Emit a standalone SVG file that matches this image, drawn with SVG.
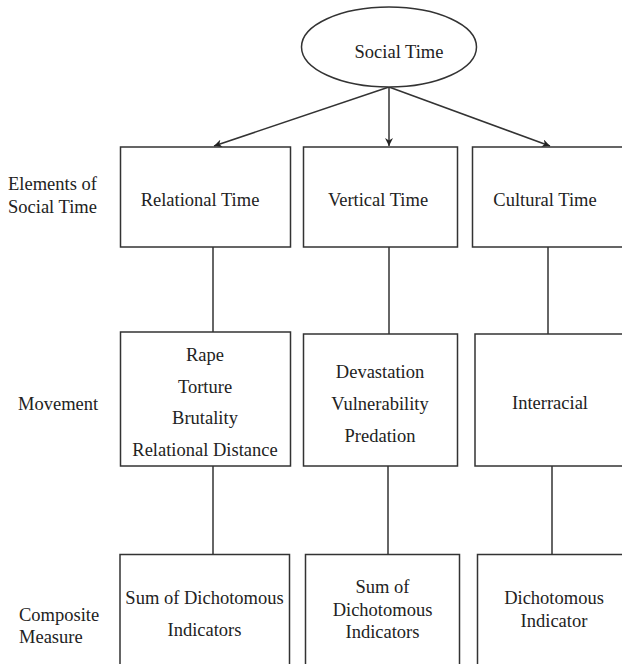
<svg xmlns="http://www.w3.org/2000/svg" width="622" height="664" viewBox="0 0 622 664">
<style>
.bx{fill:#fff;stroke:#333;stroke-width:1.5}
.ln{stroke:#333;stroke-width:1.5;fill:none}
.t{font-family:'Liberation Serif','DejaVu Serif',serif;font-size:18.5px;fill:#222}
.c{text-anchor:middle}
</style>
<defs>
<marker id="ah" viewBox="0 0 10 10" refX="10" refY="5" markerWidth="8" markerHeight="8" markerUnits="userSpaceOnUse" orient="auto">
<path d="M0,0 L10,5 L0,10 L3,5 z" fill="#222"/>
</marker>
</defs>
<rect width="622" height="664" fill="#fff"/>
<g id="labels" font-family="Liberation Serif, DejaVu Serif, serif" font-size="18.5" fill="#222">
<text class="t" x="8" y="190">Elements of</text>
<text class="t" x="8" y="213">Social Time</text>
<text class="t" x="18" y="410">Movement</text>
<text class="t" x="19" y="621">Composite</text>
<text class="t" x="19" y="643">Measure</text>
</g>
<g id="connectors">
<line class="ln" x1="389" y1="87" x2="214" y2="146" marker-end="url(#ah)"/>
<line class="ln" x1="389" y1="87" x2="389" y2="146" marker-end="url(#ah)"/>
<line class="ln" x1="389" y1="87" x2="550" y2="146" marker-end="url(#ah)"/>
<line class="ln" x1="213" y1="247" x2="213" y2="332"/>
<line class="ln" x1="389" y1="247" x2="389" y2="334"/>
<line class="ln" x1="548" y1="247" x2="548" y2="334"/>
<line class="ln" x1="213" y1="466" x2="213" y2="554"/>
<line class="ln" x1="388" y1="466" x2="388" y2="554"/>
<line class="ln" x1="552" y1="466" x2="552" y2="554"/>
</g>
<g font-family="Liberation Serif, DejaVu Serif, serif" font-size="18.5" fill="#222" text-anchor="middle">
<g id="social-time">
<ellipse class="bx" cx="389" cy="47" rx="87.5" ry="40"/>
<text class="t c" x="399" y="58">Social Time</text>
</g>
<g id="relational-time">
<rect class="bx" x="120.5" y="147" width="170" height="100"/>
<text class="t c" x="200" y="206">Relational Time</text>
</g>
<g id="vertical-time">
<rect class="bx" x="303.5" y="147" width="154" height="100"/>
<text class="t c" x="378" y="206">Vertical Time</text>
</g>
<g id="cultural-time">
<rect class="bx" x="472.5" y="147" width="160" height="100"/>
<text class="t c" x="545" y="206">Cultural Time</text>
</g>
<g id="movement-relational">
<rect class="bx" x="120.5" y="332" width="170" height="134"/>
<text class="t c" x="205" y="361">Rape</text>
<text class="t c" x="205" y="393">Torture</text>
<text class="t c" x="205" y="424">Brutality</text>
<text class="t c" x="205" y="456">Relational Distance</text>
</g>
<g id="movement-vertical">
<rect class="bx" x="303.5" y="334" width="154" height="132"/>
<text class="t c" x="380" y="378">Devastation</text>
<text class="t c" x="380" y="410">Vulnerability</text>
<text class="t c" x="380" y="442">Predation</text>
</g>
<g id="movement-cultural">
<rect class="bx" x="475" y="334" width="160" height="132"/>
<text class="t c" x="550" y="409">Interracial</text>
</g>
<g id="measure-relational">
<rect class="bx" x="120" y="554.5" width="169.5" height="120"/>
<text class="t c" x="204.5" y="604">Sum of Dichotomous</text>
<text class="t c" x="204.5" y="636">Indicators</text>
</g>
<g id="measure-vertical">
<rect class="bx" x="305.5" y="554.5" width="154" height="120"/>
<text class="t c" x="382.5" y="593">Sum of</text>
<text class="t c" x="382.5" y="616">Dichotomous</text>
<text class="t c" x="382.5" y="638">Indicators</text>
</g>
<g id="measure-cultural">
<rect class="bx" x="477.5" y="554.5" width="160" height="120"/>
<text class="t c" x="554" y="604">Dichotomous</text>
<text class="t c" x="554" y="627">Indicator</text>
</g>
</g>
</svg>
